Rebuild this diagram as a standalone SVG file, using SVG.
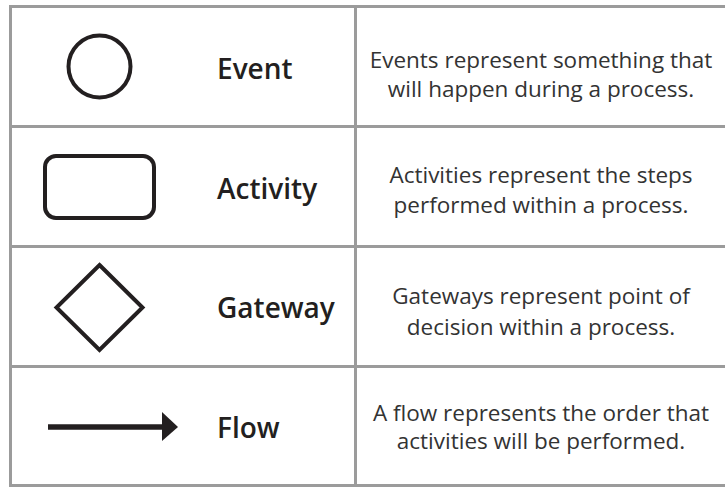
<svg xmlns="http://www.w3.org/2000/svg" width="725" height="487" viewBox="0 0 725 487">
  <style>
    .grid { fill: none; stroke: #9b9b9b; stroke-width: 3; }
    .shape { fill: none; stroke: #231f20; stroke-width: 4; }
    .label { font-family: "Open Sans", "Noto Sans", sans-serif; font-weight: 600; font-size: 28px; fill: #231f20; }
    .desc { font-family: "Open Sans", "Noto Sans", sans-serif; font-size: 22.5px; fill: #333333; text-anchor: middle; }
  </style>

  <rect x="0" y="0" width="725" height="487" fill="#ffffff"/>

  <!-- table grid -->
  <g id="table-grid">
    <rect class="grid" x="10.5" y="6.5" width="730" height="479"/>
    <line class="grid" x1="355.5" y1="6.5" x2="355.5" y2="485.5"/>
    <line class="grid" x1="10.5" y1="126.5" x2="740" y2="126.5"/>
    <line class="grid" x1="10.5" y1="246.5" x2="740" y2="246.5"/>
    <line class="grid" x1="10.5" y1="366.5" x2="740" y2="366.5"/>
  </g>

  <!-- row 1: event -->
  <g id="event">
    <circle class="shape" cx="99.5" cy="66.5" r="31"/>
    <text class="label" x="217" y="79">Event</text>
    <text class="desc" x="541" y="68">Events represent something that</text>
    <text class="desc" x="541" y="97">will happen during a process.</text>
  </g>

  <!-- row 2: activity -->
  <g id="activity">
    <rect class="shape" x="45" y="156" width="109" height="62" rx="11"/>
    <text class="label" x="217" y="199">Activity</text>
    <text class="desc" x="541" y="183">Activities represent the steps</text>
    <text class="desc" x="541" y="213">performed within a process.</text>
  </g>

  <!-- row 3: gateway -->
  <g id="gateway">
    <polygon class="shape" points="99.5,265 142.5,307.5 99.5,350 56.5,307.5"/>
    <text class="label" x="217" y="318">Gateway</text>
    <text class="desc" x="541" y="304">Gateways represent point of</text>
    <text class="desc" x="541" y="335">decision within a process.</text>
  </g>

  <!-- row 4: flow -->
  <g id="flow">
    <line x1="48" y1="427" x2="164" y2="427" stroke="#231f20" stroke-width="5.5"/>
    <polygon points="162,412 178,427 162,441" fill="#231f20"/>
    <text class="label" x="217" y="438">Flow</text>
    <text class="desc" x="541" y="421">A flow represents the order that</text>
    <text class="desc" x="541" y="449">activities will be performed.</text>
  </g>
</svg>
